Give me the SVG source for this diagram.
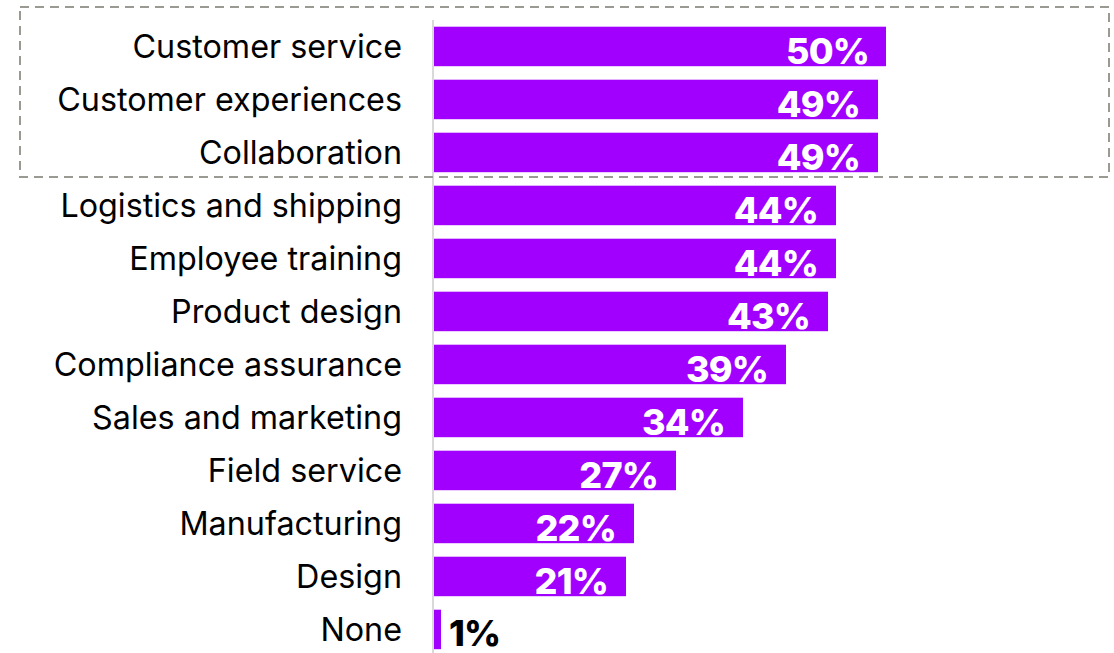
<svg xmlns="http://www.w3.org/2000/svg" width="1114" height="653" viewBox="0 0 1114 653">
<style>
.lbl{font-family:Inter,"Liberation Sans",sans-serif;font-size:32.3px;fill:#000;text-anchor:end}
.val{font-family:Inter,"Liberation Sans",sans-serif;font-size:36px;font-weight:800;letter-spacing:-0.8px;fill:#fff;text-anchor:end}
.valk{font-family:Inter,"Liberation Sans",sans-serif;font-size:36px;font-weight:800;letter-spacing:-0.8px;fill:#000}
.bar{fill:#A100FF}
</style>
<rect width="1114" height="653" fill="#fff"/>
<line x1="433" y1="20" x2="433" y2="653" stroke="#d9d9d9" stroke-width="2"/>
<g id="rows">
<g id="r1"><text class="lbl" x="402" y="57.5">Customer service</text><rect class="bar" x="434" y="26.7" width="452" height="39.5"/><text class="val" x="869" y="64">50%</text></g>
<g id="r2"><text class="lbl" x="402" y="110.5">Customer experiences</text><rect class="bar" x="434" y="79.7" width="444" height="39.5"/><text class="val" x="860" y="117">49%</text></g>
<g id="r3"><text class="lbl" x="402" y="163.5">Collaboration</text><rect class="bar" x="434" y="132.7" width="444" height="39.5"/><text class="val" x="860" y="170">49%</text></g>
<g id="r4"><text class="lbl" x="402" y="216.5">Logistics and shipping</text><rect class="bar" x="434" y="185.7" width="402" height="39.5"/><text class="val" x="818" y="223">44%</text></g>
<g id="r5"><text class="lbl" x="402" y="269.5">Employee training</text><rect class="bar" x="434" y="238.7" width="402" height="39.5"/><text class="val" x="818" y="276">44%</text></g>
<g id="r6"><text class="lbl" x="402" y="322.5">Product design</text><rect class="bar" x="434" y="291.7" width="394" height="39.5"/><text class="val" x="810" y="329">43%</text></g>
<g id="r7"><text class="lbl" x="402" y="375.5">Compliance assurance</text><rect class="bar" x="434" y="344.7" width="352" height="39.5"/><text class="val" x="768" y="382">39%</text></g>
<g id="r8"><text class="lbl" x="402" y="428.5">Sales and marketing</text><rect class="bar" x="434" y="397.7" width="309" height="39.5"/><text class="val" x="725" y="435">34%</text></g>
<g id="r9"><text class="lbl" x="402" y="481.5">Field service</text><rect class="bar" x="434" y="450.7" width="242" height="39.5"/><text class="val" x="658" y="488">27%</text></g>
<g id="r10"><text class="lbl" x="402" y="534.5">Manufacturing</text><rect class="bar" x="434" y="503.7" width="200" height="39.5"/><text class="val" x="616" y="541">22%</text></g>
<g id="r11"><text class="lbl" x="402" y="587.5">Design</text><rect class="bar" x="434" y="556.7" width="192" height="39.5"/><text class="val" x="608" y="594">21%</text></g>
<g id="r12"><text class="lbl" x="402" y="640.5">None</text><rect class="bar" x="434" y="609.7" width="7" height="39.5"/><text class="valk" x="449" y="646">1%</text></g>
</g>
<g id="connectors"></g>
<rect id="highlight" x="20" y="7" width="1089" height="170" fill="none" stroke="#9a9a92" stroke-width="2" stroke-dasharray="9 6"/>
</svg>
